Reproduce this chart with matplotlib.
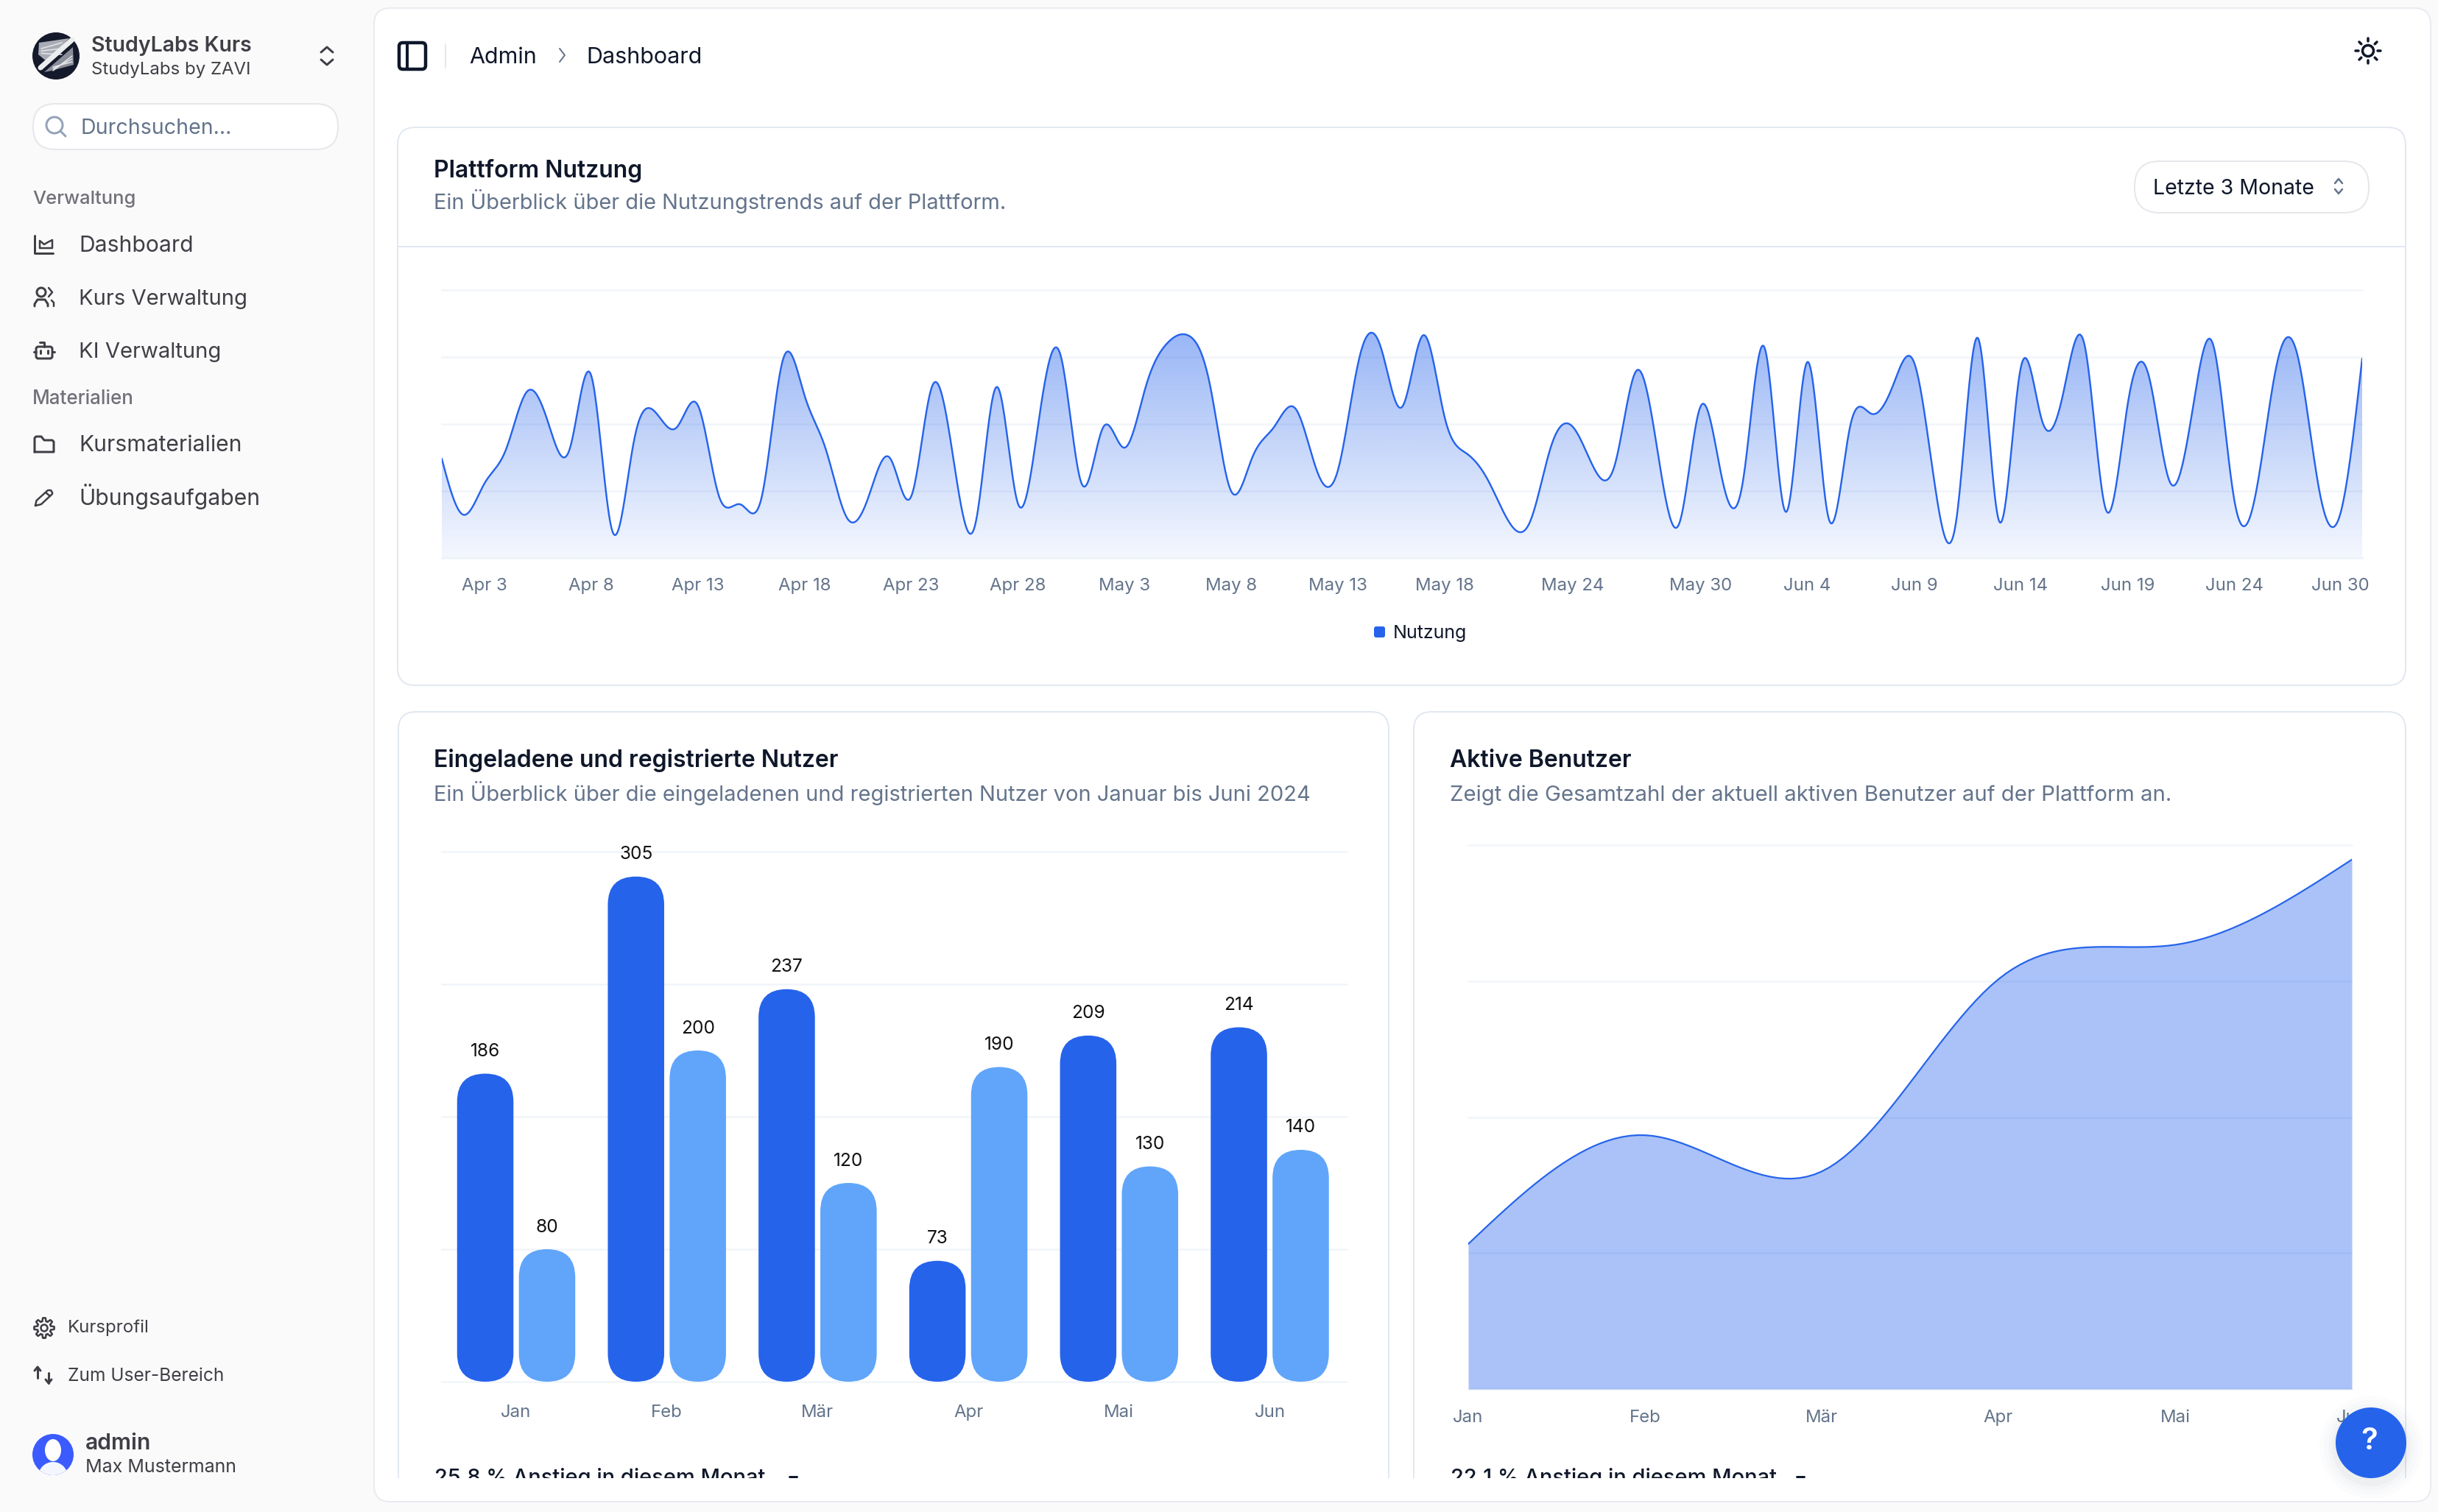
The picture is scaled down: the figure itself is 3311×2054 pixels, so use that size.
"""Rebuild of the StudyLabs admin dashboard screenshot."""

from __future__ import annotations

import matplotlib

matplotlib.use("Agg")
import matplotlib.pyplot as plt
import numpy as np
import pandas as pd
from matplotlib.patches import Circle, Ellipse, FancyBboxPatch, Polygon, Rectangle
from matplotlib.transforms import ScaledTranslation

W, H = 3312, 2054
DPI = 100
FONT = ["Inter", "DejaVu Sans"]

# daily usage, Apr 1 - Jun 30
NUTZUNG = [
    222, 97, 167, 242, 373, 301, 245, 409, 59, 261, 327, 292, 342, 137, 120, 138,
    446, 364, 243, 89, 137, 224, 138, 387, 215, 75, 383, 122, 315, 454, 165, 293,
    247, 385, 481, 498, 388, 149, 227, 293, 335, 197, 197, 448, 473, 338, 499, 315,
    235, 177, 82, 81, 252, 294, 201, 213, 420, 233, 78, 340, 178, 178, 470, 103,
    439, 88, 294, 323, 385, 438, 155, 92, 492, 81, 426, 307, 371, 475, 107, 341,
    408, 169, 317, 480, 132, 141, 434, 448, 149, 103, 446,
]
NUTZUNG_TICKS = [
    "Apr 3", "Apr 8", "Apr 13", "Apr 18", "Apr 23", "Apr 28", "May 3", "May 8", "May 13",
    "May 18", "May 24", "May 30", "Jun 4", "Jun 9", "Jun 14", "Jun 19", "Jun 24", "Jun 30",
]

MONTHS = ["Jan", "Feb", "Mär", "Apr", "Mai", "Jun"]
EINGELADEN = [186, 305, 237, 73, 209, 214]
REGISTRIERT = [80, 200, 120, 190, 130, 140]
AKTIVE = [80, 140, 120, 226, 245, 292]

BLUE = "#2563EB"
SKY = "#60A5FA"
INK = "#0F172A"
SLATE = "#64748B"
ZINC = "#3F3F46"
BORDER = "#E2E8F0"
GRID = "#F1F5F9"


def natural_curve(values, per_seg=24):
    # natural cubic spline over evenly spaced points, same smoothing as the web chart
    y = np.asarray(values, dtype=float)
    n = len(y)
    A = np.zeros((n, n))
    b = np.zeros(n)
    A[0, 0] = A[-1, -1] = 1
    for i in range(1, n - 1):
        A[i, i - 1:i + 2] = [1, 4, 1]
        b[i] = 6 * (y[i - 1] - 2 * y[i] + y[i + 1])
    m = np.linalg.solve(A, b)
    xs, ys = [], []
    for i in range(n - 1):
        t = np.linspace(0, 1, per_seg, endpoint=False)
        xs.append(i + t)
        ys.append(
            (1 - t) * y[i] + t * y[i + 1]
            + ((1 - t) ** 3 - (1 - t)) * m[i] / 6
            + (t**3 - t) * m[i + 1] / 6
        )
    return np.append(np.concatenate(xs), n - 1), np.append(np.concatenate(ys), y[-1])


def px_lw(px):
    return px * 72 / DPI


def px_fs(px):
    return px * 72 / DPI


fig = plt.figure(figsize=(W / DPI, H / DPI), dpi=DPI, facecolor="#FAFAFA")
plt.rcParams["font.family"] = FONT


def px_axes(left, top, right, bottom, z=1):
    ax = fig.add_axes(
        [left / W, 1 - bottom / H, (right - left) / W, (bottom - top) / H], zorder=z
    )
    ax.patch.set_alpha(0)
    return ax


ui = px_axes(0, 0, W, H, 0)
ui.set_xlim(0, W)
ui.set_ylim(H, 0)
ui.axis("off")

top = px_axes(0, 0, W, H, 5)
top.set_xlim(0, W)
top.set_ylim(H, 0)
top.axis("off")


def label(x, y, s, size, color=INK, weight="normal", ha="left", ax=ui, **kw):
    # +3: matplotlib centres on the full box with descender, the browser looks lower
    return ax.text(x, y + 3, s, fontsize=px_fs(size), color=color, fontweight=weight,
                   ha=ha, va="center", family=FONT, **kw)


def rrect(x0, y0, x1, y1, r, fc="white", ec=BORDER, lw=2, z=1, ax=ui, **kw):
    p = FancyBboxPatch((x0, y0), x1 - x0, y1 - y0, boxstyle=f"round,pad=0,rounding_size={r}",
                       fc=fc, ec=ec, lw=px_lw(lw), zorder=z, **kw)
    ax.add_patch(p)
    return p


def stroke(xs, ys, color=ZINC, lw=3, z=3, ax=ui):
    ax.plot(xs, ys, color=color, lw=px_lw(lw), solid_capstyle="round",
            solid_joinstyle="round", zorder=z)


def chevrons(x, y, color=ZINC, lw=3, w=8, gap=5, h=7):
    stroke([x - w, x, x + w], [y - gap, y - gap - h, y - gap], color, lw)
    stroke([x - w, x, x + w], [y + gap, y + gap + h, y + gap], color, lw)


def ring(x, y, r, color=ZINC, lw=3, fc="none", ax=ui):
    ax.add_patch(Circle((x, y), r, fc=fc, ec=color, lw=px_lw(lw), zorder=3))


# main panel
rrect(508, 11, 3301, 2040, 22, fc="white", ec="#E8EBF0", lw=2)

# sidebar head
ui.add_patch(Circle((76, 76), 32, fc="#141A2B", ec="none", zorder=2))
ui.add_patch(Polygon([[53, 58], [94, 52], [64, 84], [52, 74]], fc="#A9ACB4", ec="none", zorder=3))
ui.add_patch(Polygon([[99, 64], [100, 88], [70, 96], [60, 98]], fc="#8A8E98", ec="none", zorder=3))
for dy in (0, 8, 16):
    stroke([56, 84], [66 + dy * 0.4, 58 + dy], "#E6E7EA", 1.5)
    stroke([72, 98], [96 - dy * 0.3, 76 + dy * 0.5], "#E6E7EA", 1.5)
stroke([55, 98], [92, 54], "#ECEDEF", 7, z=4)
label(124, 60, "StudyLabs Kurs", 28.5, ZINC, "semibold")
label(124, 92, "StudyLabs by ZAVI", 24, ZINC)
chevrons(444, 76)

# search box
rrect(45, 141, 459, 203, 30, fc="white", ec="#E5E7EB")
ring(74, 170, 11, "#94A3B8")
stroke([82, 89], [178, 185], "#94A3B8")
label(110, 172, "Durchsuchen...", 28.5, SLATE)

# sidebar groups
label(44, 268, "Verwaltung", 25.5, "#71717A", "medium")
label(44, 539, "Materialien", 26, "#71717A", "medium")
for yy, s, size in zip((331, 403, 475, 602, 672),
                       ("Dashboard", "Kurs Verwaltung", "KI Verwaltung", "Kursmaterialien", "Übungsaufgaben"),
                       (30, 29.2, 29.2, 30, 30)):
    label(107, yy, s, size, ZINC)

# chart-area icon
stroke([47, 47, 72], [320, 344, 344])
stroke([54, 54, 60, 65, 71, 71, 54], [337, 327, 332, 329, 326, 337, 337], lw=2.5)
# users icon
ring(56, 397, 6)
stroke([47, 47, 51, 61, 65, 65], [416, 413, 407, 407, 413, 416])
stroke([66, 71, 66], [391, 397, 403], lw=2.5)
stroke([70, 73, 73], [408, 411, 416], lw=2.5)
# bot icon
rrect(49, 471, 71, 487, 3, fc="none", ec=ZINC, lw=3, z=3)
stroke([60, 60, 54], [471, 465, 465])
stroke([46, 49], [478, 478])
stroke([71, 74], [478, 478])
stroke([55.5, 55.5], [476, 480])
stroke([65, 65], [476, 480])
# folder icon
stroke([47, 47, 49, 56, 60, 71, 73, 73, 47], [614, 595, 593, 593, 598, 598, 600, 614, 614])
# pencil icon
stroke([48, 49.5, 65, 69, 71, 71, 56, 48], [687, 680, 666, 666, 669, 671, 685, 687], lw=2.5)
stroke([62, 68], [669, 674], lw=2.5)

# sidebar footer
theta = np.linspace(0, 2 * np.pi, 241)
gear_r = 11.5 + 2.2 * np.clip(2.2 * np.cos(8 * theta), -1, 1)
stroke(60 + gear_r * np.sin(theta), 1804 + gear_r * np.cos(theta), ZINC, 2.5)
ring(60, 1804, 4.5, ZINC, 2.5)
label(92, 1801, "Kursprofil", 24, ZINC)
stroke([51, 51], [1857, 1872])
stroke([47, 51, 55], [1862, 1857, 1862])
stroke([66, 66], [1865, 1879])
stroke([62, 66, 70], [1874, 1879, 1874])
label(92, 1866, "Zum User-Bereich", 24.5, ZINC)

ui.add_patch(Circle((72, 1976), 28, fc="#3B5BFF", ec="none", zorder=2))
ui.add_patch(Ellipse((72, 1970), 22, 30, fc="white", ec="none", zorder=3))
body = ui.add_patch(Circle((72, 2006), 20, fc="#F4F6FF", ec="none", zorder=3))
body.set_clip_path(Circle((72, 1976), 28, transform=ui.transData))
label(116, 1958, "admin", 30, ZINC, "semibold")
label(116, 1991, "Max Mustermann", 25, ZINC)

# top bar
rrect(542, 58, 578, 94, 5, fc="none", ec=INK, lw=4.5, z=3)
stroke([553, 553], [58, 94], INK, 4)
stroke([605, 605], [60, 92], BORDER, 2)
label(637, 75, "Admin", 30.5, INK)
stroke([760, 767, 760], [66, 75, 84], SLATE, 2)
label(796, 75, "Dashboard", 30.5, INK)
ring(3216, 69, 7.5, INK, 3.5)
for a in np.arange(0, 360, 45):
    ca, sa = np.cos(np.radians(a)), np.sin(np.radians(a))
    stroke([3216 + 13 * ca, 3216 + 17 * ca], [69 + 13 * sa, 69 + 17 * sa], INK, 3.5)

# cards
clip_box = Rectangle((0, 0), W, 2008, transform=ui.transData)
rrect(540, 173, 3267, 931, 24)
ui.plot([540, 3267], [335, 335], color=BORDER, lw=px_lw(2), zorder=2)
for x0, x1 in ((541, 1886), (1920, 3267)):
    c = rrect(x0, 967, x1, 2200, 24)
    c.set_clip_path(clip_box)

label(589, 229, "Plattform Nutzung", 32, INK, "semibold")
label(589, 271, "Ein Überblick über die Nutzungstrends auf der Plattform.", 29, SLATE)
rrect(2899, 219, 3217, 289, 34, fc="white", ec="#E5E7EB")
label(2924, 253, "Letzte 3 Monate", 28.5, INK)
chevrons(3176, 253, SLATE, 2.5, 5, 4, 6)

label(589, 1030, "Eingeladene und registrierte Nutzer", 32, INK, "semibold")
label(589, 1075, "Ein Überblick über die eingeladenen und registrierten Nutzer von Januar bis Juni 2024", 29.1, SLATE)
label(1969, 1031, "Aktive Benutzer", 32, INK, "semibold")
label(1969, 1077, "Zeigt die Gesamtzahl der aktuell aktiven Benutzer auf der Plattform an.", 29.35, SLATE)

for x, s, ax_x in ((590, "25,8 % Anstieg in diesem Monat", 1077), (1970, "22,1 % Anstieg in diesem Monat", 2445)):
    t = label(x, 2005, s, 29, INK, "medium", clip_on=True)
    t.set_clip_path(clip_box)
    stroke([ax_x - 5, ax_x + 5], [2006, 2006], INK, 3)


def style_axis(ax, yticks, size=24):
    for sp in ax.spines.values():
        sp.set_visible(False)
    ax.set_yticks(yticks)
    ax.set_yticklabels([])
    ax.tick_params(length=0)
    ax.yaxis.grid(True, color=GRID, lw=px_lw(2.5))
    ax.xaxis.grid(False)
    ax.set_axisbelow(True)
    for gl in ax.get_ygridlines():
        gl.set_clip_on(False)
    for lab in ax.get_xticklabels():
        lab.set_fontsize(px_fs(size))
        lab.set_color(SLATE)
        lab.set_fontfamily(FONT)


# usage chart
day_labels = [f"{d:%b} {d.day}" for d in pd.date_range("2024-04-01", "2024-06-30")]
usage = px_axes(600, 394, 3208, 758, 2)
xs, ys = natural_curve(NUTZUNG)
usage.set_xlim(0, len(NUTZUNG) - 1)
usage.set_ylim(0, 600)
usage.set_xticks([day_labels.index(s) for s in NUTZUNG_TICKS])
usage.set_xticklabels(NUTZUNG_TICKS)
style_axis(usage, [0, 150, 300, 450, 600])
usage.tick_params(axis="x", pad=19.5)
last = usage.get_xticklabels()[-1]
last.set_ha("right")
last.set_transform(last.get_transform() + ScaledTranslation(10 / DPI, 0, fig.dpi_scale_trans))
rgba = np.zeros((256, 1, 4))
rgba[..., :3] = matplotlib.colors.to_rgb(BLUE)
rgba[:, 0, 3] = np.linspace(0.47, 0.05, 256)
grad = usage.imshow(rgba, extent=(0, len(NUTZUNG) - 1, 0, ys.max()), aspect="auto", zorder=2,
                    interpolation="bilinear", origin="upper")
usage.set_xlim(0, len(NUTZUNG) - 1)
usage.set_ylim(0, 600)
grad.set_clip_path(Polygon(np.column_stack([np.r_[xs, xs[-1], 0], np.r_[ys, 0, 0]]),
                           transform=usage.transData))
usage.plot(xs, ys, color=BLUE, lw=px_lw(2.4), zorder=3)
ui.add_patch(FancyBboxPatch((1866, 851), 15, 15, boxstyle="round,pad=0,rounding_size=3", fc=BLUE, ec="none", zorder=3))
label(1892, 857, "Nutzung", 25, INK)

# invited vs. registered bars
x_px = 204.7
bars = px_axes(600, 1157, 1829, 1877, 2)
bars.set_xlim(-101 / x_px, (1829 - 701) / x_px)
bars.set_ylim(0, 320)
bars.set_xticks(range(len(MONTHS)))
bars.set_xticklabels(MONTHS)
style_axis(bars, [0, 80, 160, 240, 320])
bars.tick_params(axis="x", pad=22)
bar_w = 0.374
y_px = (1877 - 1157) / 320
for i, (a, b) in enumerate(zip(EINGELADEN, REGISTRIERT)):
    for val, off, col in ((a, -0.205, BLUE), (b, 0.205, SKY)):
        bars.add_patch(FancyBboxPatch(
            (i + off - bar_w / 2, 0), bar_w, val,
            boxstyle=f"round,pad=0,rounding_size={bar_w / 2}",
            mutation_aspect=x_px / y_px, fc=col, ec="none", zorder=3, clip_on=False))
        bars.annotate(str(val), (i + off, val), xytext=(0, px_fs(30)), textcoords="offset points",
                      ha="center", va="center", fontsize=px_fs(24.5), color="#111111",
                      family=FONT, annotation_clip=False)

# active users area
area = px_axes(1994, 1148, 3194, 1887, 2)
ax_x, ax_y = natural_curve(AKTIVE)
area.set_xlim(0, 5)
area.set_ylim(0, 300)
area.set_xticks(range(len(MONTHS)))
area.set_xticklabels(MONTHS)
style_axis(area, [0, 75, 150, 225, 300])
area.tick_params(axis="x", pad=20)
area.fill_between(ax_x, ax_y, 0, color=BLUE, alpha=0.39, lw=0, zorder=2)
area.plot(ax_x, ax_y, color=BLUE, lw=px_lw(2.2), zorder=3)

# help button
for r, a in ((70, 0.012), (64, 0.015), (58, 0.02), (53, 0.03)):
    top.add_patch(Circle((3220, 1966), r, fc="#334155", ec="none", alpha=a, zorder=1))
top.add_patch(Circle((3220, 1960), 48, fc=BLUE, ec="none", zorder=2))
label(3218, 1955, "?", 42, "white", "semibold", ha="center", ax=top, zorder=3)

fig.savefig("out.png", dpi=DPI, facecolor=fig.get_facecolor())
